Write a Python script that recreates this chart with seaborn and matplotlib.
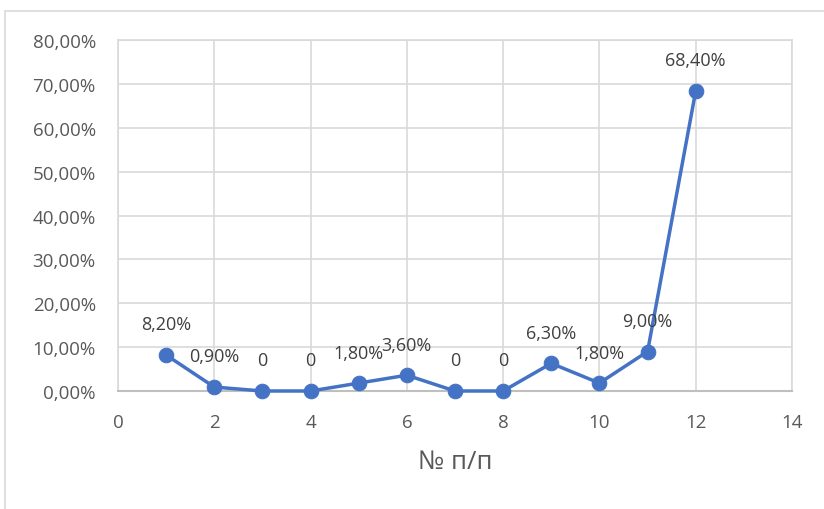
import matplotlib
matplotlib.use("Agg")
import matplotlib.pyplot as plt
import seaborn as sns
import pandas as pd
from matplotlib.patches import Rectangle

x_vals = [1, 2, 3, 4, 5, 6, 7, 8, 9, 10, 11, 12]
y_vals = [0.082, 0.009, 0.0, 0.0, 0.018, 0.036, 0.0, 0.0, 0.063, 0.018, 0.09, 0.684]
point_labels = ["8,20%", "0,90%", "0", "0", "1,80%", "3,60%", "0", "0", "6,30%", "1,80%", "9,00%", "68,40%"]
x_ticks = [0, 2, 4, 6, 8, 10, 12, 14]
y_ticks = [0.0, 0.1, 0.2, 0.3, 0.4, 0.5, 0.6, 0.7, 0.8]
y_tick_labels = ["0,00%", "10,00%", "20,00%", "30,00%", "40,00%", "50,00%", "60,00%", "70,00%", "80,00%"]
x_title = "№ п/п"

sns.set_theme(style="white")
plt.rcParams['font.family'] = ['Open Sans', 'DejaVu Sans']

df = pd.DataFrame({"x": x_vals, "y": y_vals})

fig = plt.figure(figsize=(8.24, 5.10), dpi=100)
ax = fig.add_axes([118/824, 1 - 392/510, (792-118)/824, (392-41)/510])

# chart-area frame
fig.patches.append(Rectangle((5/824, -0.1), 1.2, 1 - 12/510 + 0.1, transform=fig.transFigure,
                             fill=False, edgecolor="#D9D9D9", linewidth=1.2, zorder=0))

sns.lineplot(data=df, x="x", y="y", ax=ax, color="#4472C4", linewidth=2.5,
             marker="o", markersize=10.5, markeredgecolor="#4472C4", zorder=3, clip_on=False)

for xv, yv, lab in zip(x_vals, y_vals, point_labels):
    ax.annotate(lab, (xv, yv), xytext=(0, 22), textcoords="offset points",
                ha="center", va="center", fontsize=13, color="#404040", zorder=4)

ax.set_xlim(0, 14)
ax.set_ylim(0, 0.8)
ax.set_xticks(x_ticks)
ax.set_xticklabels([str(t) for t in x_ticks])
ax.set_yticks(y_ticks)
ax.set_yticklabels(y_tick_labels)
ax.grid(True, color="#D9D9D9", linewidth=1.2)
ax.set_axisbelow(True)
for side in ["top", "right", "left"]:
    ax.spines[side].set_visible(True)
    ax.spines[side].set_color("#D9D9D9")
    ax.spines[side].set_linewidth(1.2)
ax.spines["bottom"].set_color("#BFBFBF")
ax.spines["bottom"].set_linewidth(1.5)
ax.tick_params(axis="both", length=0, labelsize=13.5, labelcolor="#595959")
ax.tick_params(axis="x", pad=16)
ax.tick_params(axis="y", pad=16)
ax.set_xlabel(x_title, fontsize=18.5, color="#595959", labelpad=13)
ax.set_ylabel("")

fig.savefig("out.png", dpi=100)
